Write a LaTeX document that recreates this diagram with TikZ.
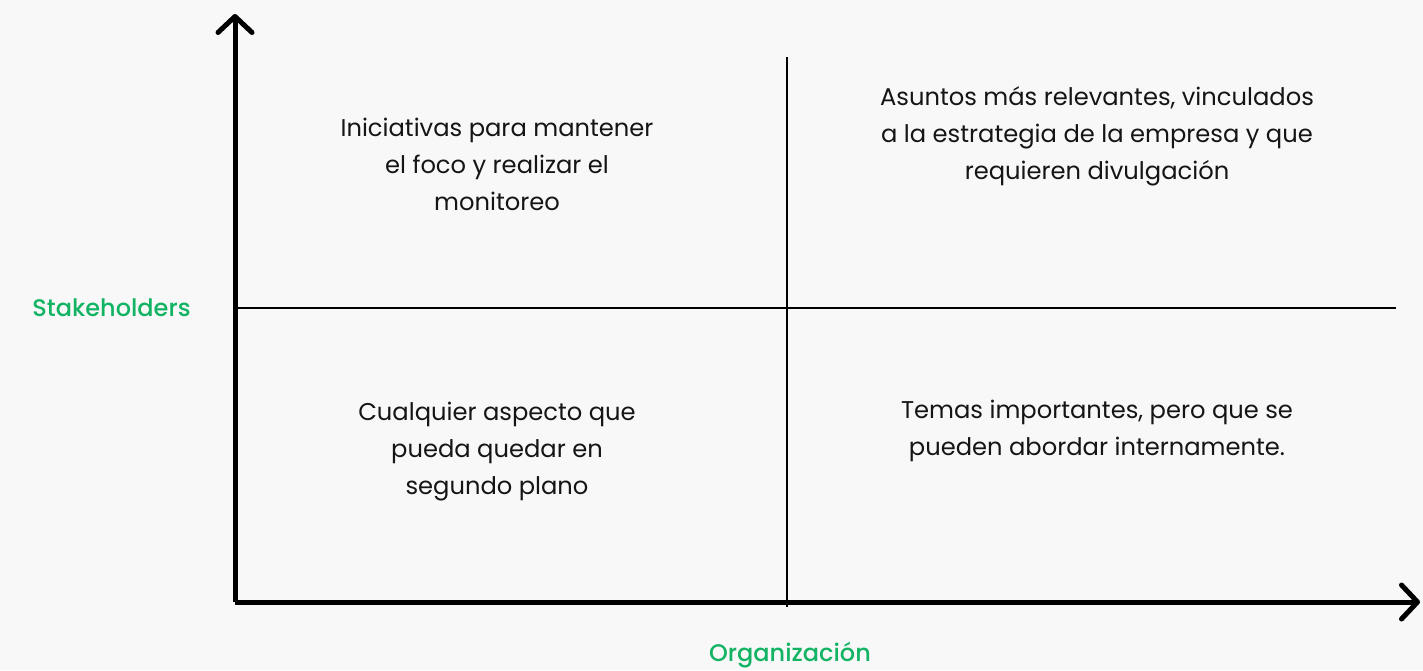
\documentclass[tikz,border=0pt]{standalone}
\usepackage{fontspec}
\setmainfont{Poppins}
\newfontfamily\pmed{Poppins Medium}
\usetikzlibrary{arrows.meta}
\definecolor{bg}{HTML}{F8F8F8}
\definecolor{grn}{HTML}{12B464}
\definecolor{ink}{HTML}{151515}
\tikzset{
  axis/.style={line width=5pt, black, -{Straight Barb[length=16pt,width=34pt,round]}},
  divider/.style={line width=1.4pt, black},
  quad/.style={font=\fontsize{24.2}{37}\selectfont, text=ink, align=center, inner sep=0pt},
  axlabel/.style={font=\pmed\fontsize{24}{26}\selectfont, text=grn, inner sep=0pt}
}
\begin{document}
\begin{tikzpicture}[x=1pt,y=-1pt]
\fill[bg] (0,0) rectangle (1423,670);
\useasboundingbox (0,0) rectangle (1423,670);
\coordinate (o) at (235,602);
\coordinate (ytop) at (235,14);
\coordinate (xend) at (1420,602);
\coordinate (vtop) at (787,57);
\coordinate (vbot) at (787,607);
\coordinate (hl) at (235,308);
\coordinate (hr) at (1396,308);
\draw[divider] (vtop) -- (vbot);
\draw[divider] (hl) -- (hr);
\draw[axis] (o) -- (ytop);
\draw[axis] (o) -- (xend);
\node[quad] (q1) at (497,164.5) {Iniciativas para mantener\\el foco y realizar el\\monitoreo};
\node[quad] (q2) at (1097,136.5) {Asuntos más relevantes, vinculados\\a la estrategia de la empresa y que\\requieren divulgación};
\node[quad] (q3) at (497,452) {Cualquier aspecto que\\pueda quedar en\\segundo plano};
\node[quad] (q4) at (1097,431) {Temas importantes, pero que se\\pueden abordar internamente.};
\node[axlabel] (sy) at (111.5,308) {Stakeholders};
\node[axlabel] (sx) at (790,655) {Organización};
\end{tikzpicture}
\end{document}
